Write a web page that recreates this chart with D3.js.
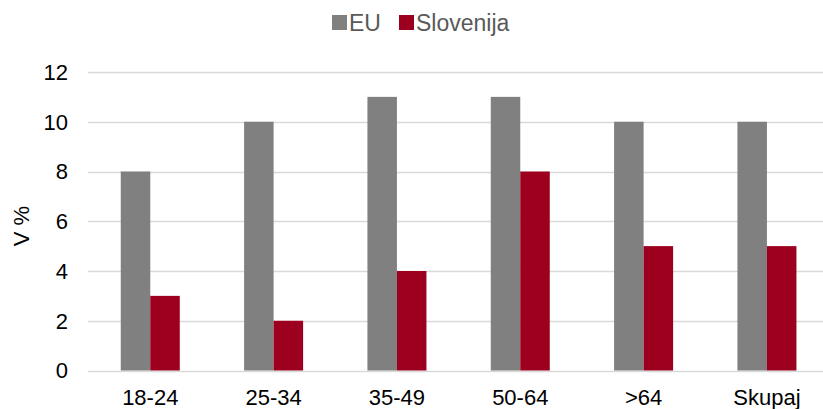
<!DOCTYPE html>
<html><head><meta charset="utf-8">
<script src="https://cdn.jsdelivr.net/npm/d3@7"></script>
<style>body{margin:0;background:#fff}svg{display:block}text{font-family:"Liberation Sans",Arial,sans-serif}</style>
</head><body>
<svg id="c" width="823" height="409"></svg>
<script>
const categories = ["18-24","25-34","35-49","50-64",">64","Skupaj"];
const seriesNames = ["EU","Slovenija"];
const euValues = [8,10,11,11,10,10];
const sloValues = [3,2,4,8,5,5];
const yTicks = [0,2,4,6,8,10,12];
const colors = ["#808080","#9c001e"];

const svg = d3.select("#c");
const x = d3.scaleBand().domain(categories).range([88.6, 828.6]);
const inner = d3.scaleBand().domain(seriesNames).range([0, x.bandwidth()]).paddingInner(0).paddingOuter(1.09);
const y = d3.scaleLinear().domain([0,12]).range([370.5, 72]);
const fs = 22;

// gridlines
svg.append("g").selectAll("line").data(yTicks).join("line")
  .attr("x1", 88).attr("x2", 823)
  .attr("y1", d => Math.round(y(d))+0.5).attr("y2", d => Math.round(y(d))+0.5)
  .attr("stroke", "#d9d9d9").attr("stroke-width", 1.5);

// y tick labels
svg.append("g").selectAll("text").data(yTicks).join("text")
  .attr("x", 68).attr("y", d => y(d)).attr("dy", "0.36em")
  .attr("text-anchor", "end").attr("font-size", fs).attr("fill", "#000")
  .text(d => d);

// bars
const data = categories.map((c,i) => ({c, vals:[euValues[i], sloValues[i]]}));
const g = svg.append("g");
data.forEach(d => {
  d.vals.forEach((v,j) => {
    g.append("rect")
      .attr("x", x(d.c) + inner(seriesNames[j]))
      .attr("width", inner.bandwidth())
      .attr("y", y(v)).attr("height", y(0) - y(v))
      .attr("fill", colors[j]);
  });
});

// x labels
svg.append("g").selectAll("text").data(categories).join("text")
  .attr("x", d => x(d) + x.bandwidth()/2).attr("y", 405)
  .attr("text-anchor", "middle").attr("font-size", fs).attr("fill", "#000")
  .text(d => d);

// y axis title
svg.append("text").attr("transform", "translate(29,226) rotate(-90)")
  .attr("text-anchor", "middle").attr("font-size", fs).attr("fill", "#000").text("V %");

// legend
const leg = [{n:"EU", x:332, c:colors[0]}, {n:"Slovenija", x:399, c:colors[1]}];
leg.forEach(l => {
  svg.append("rect").attr("x", l.x).attr("y", 15).attr("width", 15).attr("height", 15).attr("fill", l.c);
  svg.append("text").attr("x", l.x + 17).attr("y", 31).attr("font-size", 23).attr("fill", "#595959").text(l.n);
});
</script>
</body></html>
